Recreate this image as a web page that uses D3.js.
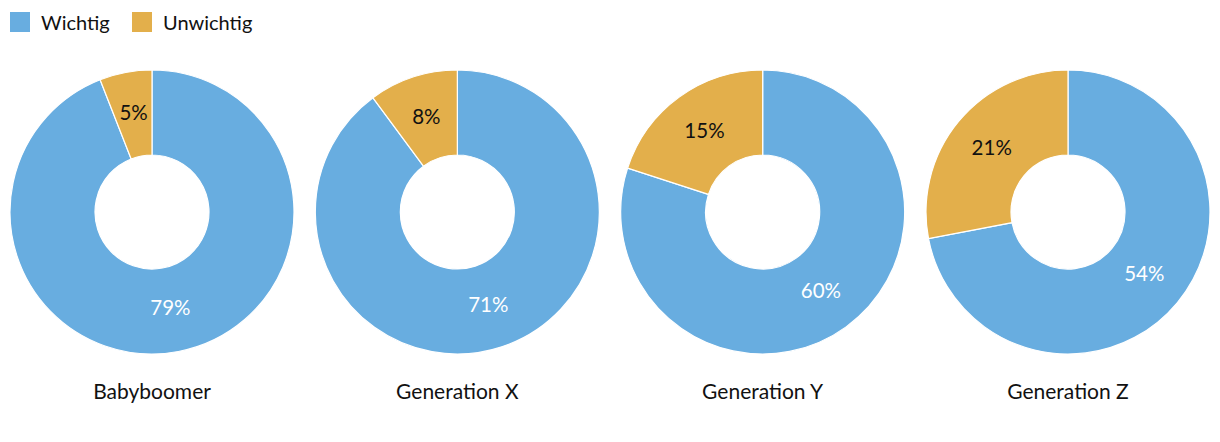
<!DOCTYPE html>
<html><head><meta charset="utf-8">
<script src="https://cdn.jsdelivr.net/npm/d3@7"></script>
<style>body{margin:0;background:#fff}svg{display:block}text{font-family:Lato,"Open Sans",sans-serif}</style>
</head><body>
<svg id="c" width="1220" height="442"></svg>
<script>
const categories = ["Babyboomer","Generation X","Generation Y","Generation Z"];
const seriesNames = ["Wichtig","Unwichtig"];
const wichtig = [79,71,60,54];
const unwichtig = [5,8,15,21];
const colors = ["#68ade0","#e3af4b"];

const svg = d3.select("#c");
const x = d3.scalePoint().domain(categories).range([152,1068]);
const cy = 212, rOuter = 142, rInner = 57;
const pie = d3.pie().sort(null).value(d=>d.v);
const arc = d3.arc().innerRadius(rInner).outerRadius(rOuter);
const labelArc = d3.arc().innerRadius(99).outerRadius(99);

categories.forEach((cat,i)=>{
  const data = [{k:0,v:wichtig[i]},{k:1,v:unwichtig[i]}];
  const g = svg.append("g").attr("transform",`translate(${x(cat)},${cy})`);
  const arcs = pie(data);
  g.selectAll("path").data(arcs).join("path")
    .attr("d",arc).attr("fill",d=>colors[d.data.k])
    .attr("stroke","#fff").attr("stroke-width",1.2);
  g.selectAll("text.v").data(arcs).join("text").attr("class","v")
    .attr("transform",d=>`translate(${labelArc.centroid(d)})`)
    .attr("text-anchor","middle").attr("dy","0.28em")
    .attr("font-size",20.5)
    .attr("fill",d=>d.data.k===0?"#fff":"#111")
    .text(d=>d.data.v+"%");
  svg.append("text").attr("x",x(cat)).attr("y",399)
    .attr("text-anchor","middle").attr("font-size",21).attr("fill","#111").text(cat);
});

const legX = [10,132];
seriesNames.forEach((s,i)=>{
  svg.append("rect").attr("x",legX[i]).attr("y",12).attr("width",20).attr("height",20).attr("fill",colors[i]);
  svg.append("text").attr("x",legX[i]+31).attr("y",30).attr("font-size",20).attr("fill","#111").text(s);
});
</script>
</body></html>
